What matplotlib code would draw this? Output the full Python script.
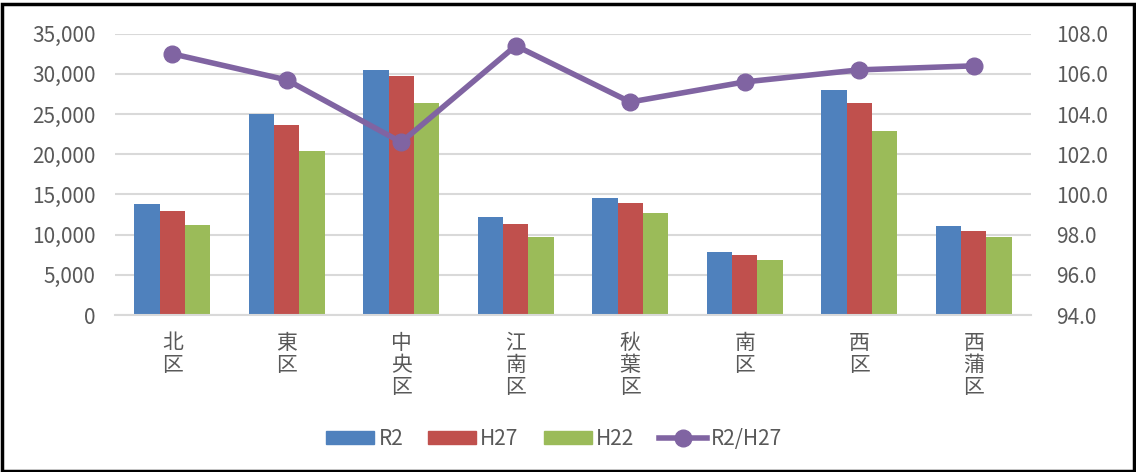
import numpy as np
import matplotlib
matplotlib.use("Agg")
import matplotlib.pyplot as plt
from matplotlib.patches import Patch, Rectangle
from matplotlib.lines import Line2D
from matplotlib.ticker import FuncFormatter

plt.rcParams['font.family'] = ['Noto Sans CJK JP', 'DejaVu Sans']

# data
wards = ["北区", "東区", "中央区", "江南区", "秋葉区", "南区", "西区", "西蒲区"]
r2 = [13850, 24960, 30480, 12150, 14560, 7880, 27990, 11110]
h27 = [12940, 23640, 29730, 11320, 13970, 7460, 26330, 10450]
h22 = [11150, 20400, 26330, 9740, 12730, 6800, 22850, 9700]
ratio = [107.0, 105.7, 102.6, 107.4, 104.6, 105.6, 106.2, 106.4]

c_blue = "#4f81bd"
c_red = "#c0504d"
c_green = "#9bbb59"
c_purple = "#8064a2"
c_text = "#595959"
c_grid = "#d9d9d9"

fig = plt.figure(figsize=(11.36, 4.72), dpi=100)
ax = fig.add_axes([0.1012, 0.3326, 0.8064, 0.596])
ax2 = ax.twinx()

x = np.arange(len(wards))
w = 0.222
ax.bar(x - w, r2, w, color=c_blue, zorder=2)
ax.bar(x, h27, w, color=c_red, zorder=2)
ax.bar(x + w, h22, w, color=c_green, zorder=2)

ax.set_ylim(0, 35000)
ax.set_yticks(np.arange(0, 35001, 5000))
ax.yaxis.set_major_formatter(FuncFormatter(lambda v, p: f"{int(v):,}"))
ax.grid(axis='y', color=c_grid, linewidth=1.5, zorder=0)
ax.set_axisbelow(True)
ax.set_xlim(-0.5, len(wards) - 0.5)
ax.set_xticks(x)
ax.set_xticklabels(["\n".join(w_) for w_ in wards], linespacing=1.0)

ax2.plot(x, ratio, color=c_purple, linewidth=4, marker='o', markersize=12, zorder=5)
ax2.set_ylim(94, 108)
ax2.set_yticks(np.arange(94, 108.1, 2))
ax2.yaxis.set_major_formatter(FuncFormatter(lambda v, p: f"{v:.1f}"))

for a in (ax, ax2):
    for s in a.spines.values():
        s.set_visible(False)
    a.tick_params(length=0, labelsize=15, colors=c_text)
ax.spines['bottom'].set_visible(True)
ax.spines['bottom'].set_color(c_grid)
ax.spines['bottom'].set_linewidth(1.5)
ax.tick_params(axis='x', pad=12)
ax.tick_params(axis='y', pad=14)
ax2.tick_params(axis='y', pad=18)

handles = [
    Patch(color=c_blue),
    Patch(color=c_red),
    Patch(color=c_green),
    Line2D([0], [0], color=c_purple, linewidth=4, marker='o', markersize=12),
]
fig.legend(handles, ["R2", "H27", "H22", "R2/H27"], loc='center',
           bbox_to_anchor=(0.488, 0.07), ncol=4, frameon=False,
           fontsize=15, labelcolor=c_text, handlelength=2.3, handleheight=0.55,
           handletextpad=0.2, columnspacing=1.2)

fig.patches.append(Rectangle((0.002, 0.002), 0.996, 0.99, transform=fig.transFigure,
                             fill=False, edgecolor='black', linewidth=2.5))

fig.savefig("out.png", dpi=100)
